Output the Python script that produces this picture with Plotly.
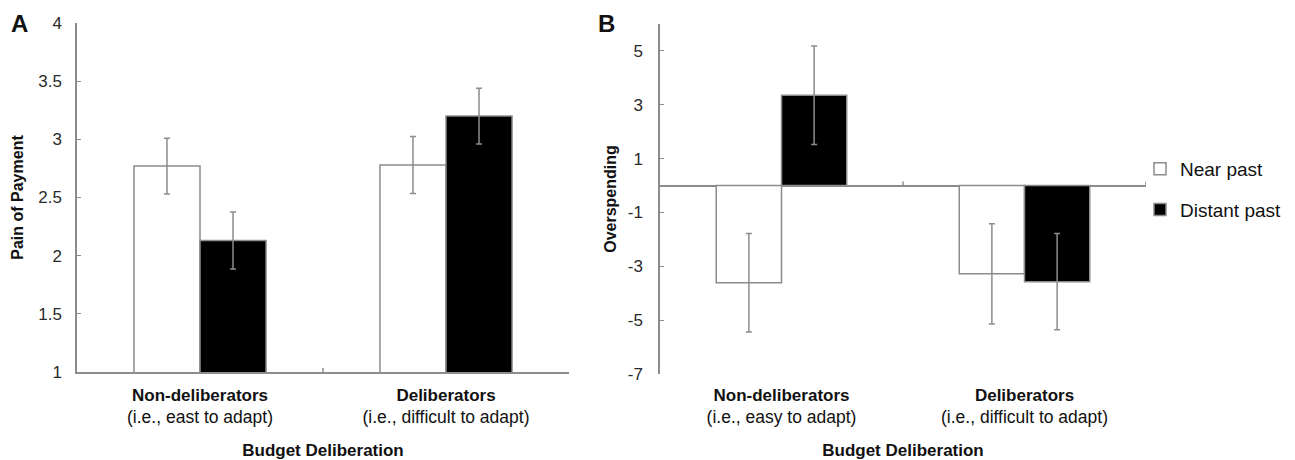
import plotly.graph_objects as go

# ---- data ----
cat_pos = [0.5, 1.5]
labels_a = ["<b>Non-deliberators</b><br><span style='font-size:17.5px'>(i.e., east to adapt)</span>",
            "<b>Deliberators</b><br><span style='font-size:17.5px'>(i.e., difficult to adapt)</span>"]
labels_b = ["<b>Non-deliberators</b><br><span style='font-size:17.5px'>(i.e., easy to adapt)</span>",
            "<b>Deliberators</b><br><span style='font-size:17.5px'>(i.e., difficult to adapt)</span>"]
series_names = ["Near past", "Distant past"]

pain_near = [2.77, 2.78]
pain_near_err = [0.24, 0.245]
pain_distant = [2.13, 3.20]
pain_distant_err = [0.245, 0.24]

over_near = [-3.61, -3.28]
over_near_err = [1.83, 1.86]
over_distant = [3.35, -3.57]
over_distant_err = [1.83, 1.79]

ticks_a = [1, 1.5, 2, 2.5, 3, 3.5, 4]
ticks_a_text = ["1", "1.5", "2", "2.5", "3", "3.5", "4"]
ticks_b = [-7, -5, -3, -1, 1, 3, 5]
ticks_b_text = ["-7", "-5", "-3", "-1", "1", "3", "5"]

# ---- styles ----
GRAY = "#8c8c8c"
FONT = "Liberation Sans, Arial, sans-serif"
fills = ["white", "black"]

fig = go.Figure()

def add_bars(x_axis, y_axis, vals_list, errs_list, show):
    for i, (vals, errs) in enumerate(zip(vals_list, errs_list)):
        fig.add_trace(go.Bar(
            x=cat_pos, y=vals, name=series_names[i],
            xaxis=x_axis, yaxis=y_axis,
            offsetgroup=str(i),
            legendgroup=series_names[i],
            showlegend=show,
            marker=dict(color=fills[i], line=dict(color=GRAY, width=1.5)),
            error_y=dict(type="data", array=errs, visible=True,
                         color=GRAY, thickness=1.5, width=3),
        ))

add_bars("x", "y", [pain_near, pain_distant], [pain_near_err, pain_distant_err], False)
add_bars("x2", "y2", [over_near, over_distant], [over_near_err, over_distant_err], True)

tickfont = dict(family=FONT, size=17, color="#2a2a2a")
titlefont = dict(family=FONT, size=16, color="#111111")
catfont = dict(family=FONT, size=17, color="#111111")
xtitlefont = dict(family=FONT, size=17, color="#111111")

fig.update_layout(
    width=1295, height=460,
    margin=dict(l=0, r=0, t=0, b=0),
    paper_bgcolor="white", plot_bgcolor="white",
    barmode="group", bargap=0.463, bargroupgap=0,
    font=dict(family=FONT, color="#111111"),
    xaxis=dict(domain=[77/1295, 569/1295], range=[0, 2], anchor="y",
               tickvals=cat_pos, ticktext=labels_a, ticks="",
               showline=True, linecolor=GRAY, linewidth=1.5,
               showgrid=False, zeroline=False, automargin=False,
               ticklabelstandoff=7, tickfont=catfont,
               title=dict(text="<b>Budget Deliberation</b>", standoff=24, font=xtitlefont)),
    yaxis=dict(domain=[1 - 372/460, 1 - 23/460], range=[1, 4], anchor="x",
               tickvals=ticks_a, ticktext=ticks_a_text,
               ticks="inside", ticklen=4, tickcolor=GRAY,
               showline=True, linecolor=GRAY, linewidth=1.5,
               showgrid=False, zeroline=False, ticklabelstandoff=10,
               automargin=False, tickfont=tickfont,
               title=dict(text="<b>Pain of Payment</b>", standoff=11, font=titlefont)),
    xaxis2=dict(domain=[660/1295, 1146/1295], range=[0, 2], anchor="y2",
                tickvals=cat_pos, ticktext=labels_b, ticks="",
                showline=False, showgrid=False, zeroline=False, automargin=False,
                ticklabelstandoff=9, tickfont=catfont,
                title=dict(text="<b>Budget Deliberation</b>", standoff=24, font=xtitlefont)),
    yaxis2=dict(domain=[1 - 374/460, 1 - 24/460], range=[-7, 6], anchor="x2",
                tickvals=ticks_b, ticktext=ticks_b_text,
                ticks="inside", ticklen=4, tickcolor=GRAY,
                showline=True, linecolor=GRAY, linewidth=1.5,
                showgrid=False, zeroline=True, zerolinecolor=GRAY, zerolinewidth=1.5,
                ticklabelstandoff=12, automargin=False,
                tickfont=tickfont,
                title=dict(text="<b>Overspending</b>", standoff=7, font=titlefont)),
    legend=dict(x=1140/1295, xanchor="left", y=1 - 150/460, yanchor="top",
                font=dict(family=FONT, size=19, color="#111111"),
                traceorder="grouped", tracegroupgap=13,
                bgcolor="rgba(0,0,0,0)"),
    annotations=[
        dict(text="<b>A</b>", x=9/1295, y=1 - 8/460, xref="paper", yref="paper",
             xanchor="left", yanchor="top", showarrow=False,
             font=dict(family=FONT, size=24, color="#111111")),
        dict(text="<b>B</b>", x=596/1295, y=1 - 8/460, xref="paper", yref="paper",
             xanchor="left", yanchor="top", showarrow=False,
             font=dict(family=FONT, size=24, color="#111111")),
    ],
    shapes=[
        dict(type="line", xref="x", yref="y", x0=1, x1=1, yanchor=1,
             ysizemode="pixel", y0=0, y1=4, line=dict(color=GRAY, width=1.5)),
        dict(type="line", xref="x2", yref="y2", x0=1, x1=1, yanchor=0,
             ysizemode="pixel", y0=0, y1=4, line=dict(color=GRAY, width=1.5)),
        dict(type="line", xref="x2", yref="y2", x0=2, x1=2, yanchor=0,
             ysizemode="pixel", y0=0, y1=4, line=dict(color=GRAY, width=1.5)),
    ],
)

fig.write_html("out.html")
